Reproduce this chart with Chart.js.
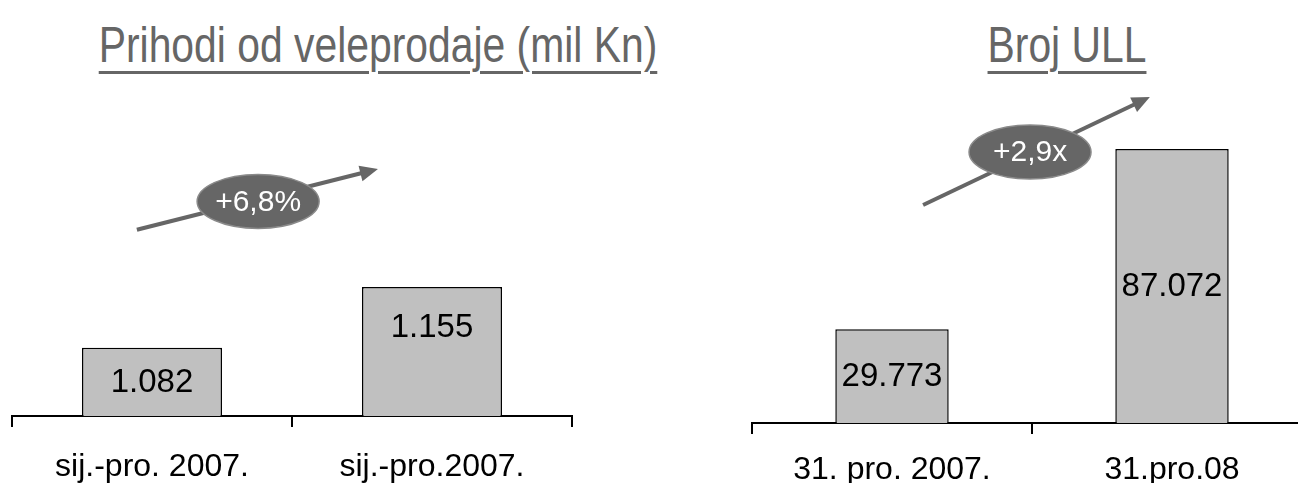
<!DOCTYPE html>
<html>
<head>
<meta charset="utf-8">
<script src="https://cdn.jsdelivr.net/npm/chart.js@4"></script>
<style>
  html, body { margin:0; padding:0; background:#fff; width:1298px; height:483px; overflow:hidden; position:relative; }
  .title { position:absolute; top:20px; font-family:"Liberation Sans",Arial,sans-serif; font-size:50px; color:#666; white-space:nowrap; text-decoration:underline; text-decoration-thickness:3px; text-underline-offset:9px; transform:translateX(-50%) scaleX(0.817); line-height:1; }
  canvas { position:absolute; top:0; }
</style>
</head>
<body>
<div class="title" id="t1" style="left:378px">Prihodi od veleprodaje (mil Kn)</div>
<div class="title" id="t2" style="left:1067px">Broj ULL</div>
<canvas id="c1" style="left:0px"></canvas>
<canvas id="c2" style="left:740px"></canvas>
<script>
// ---- data ----
const revenueCategories = ['sij.-pro. 2007.', 'sij.-pro.2007.'];
const revenueValues = [1082, 1155];
const revenueLabels = ['1.082', '1.155'];
const revenueChange = '+6,8%';

const ullCategories = ['31. pro. 2007.', '31.pro.08'];
const ullValues = [29773, 87072];
const ullLabels = ['29.773', '87.072'];
const ullChange = '+2,9x';

// ---- plugins ----
const valueLabelPlugin = {
  id: 'valueLabels',
  afterDatasetsDraw(chart, args, opts) {
    const ctx = chart.ctx;
    const meta = chart.getDatasetMeta(0);
    const bottom = chart.chartArea.bottom;
    ctx.save();
    ctx.font = '33px "Liberation Sans", Arial, sans-serif';
    ctx.fillStyle = '#000';
    ctx.textAlign = 'center';
    ctx.textBaseline = 'middle';
    meta.data.forEach((bar, i) => {
      const base = Math.min(bar.base, bottom);
      const anchor = opts.anchors[i];
      const y = anchor === 'top' ? bar.y + opts.topOffset : (bar.y + base) / 2;
      ctx.fillText(opts.labels[i], bar.x, y + 1);
    });
    ctx.restore();
  }
};

const trendPlugin = {
  id: 'trend',
  afterDatasetsDraw(chart, args, o) {
    const ctx = chart.ctx;
    const xs = chart.scales.x, ys = chart.scales.y;
    const x1 = xs.getPixelForValue(o.from[0]), y1 = ys.getPixelForValue(o.from[1]);
    const x2 = xs.getPixelForValue(o.to[0]), y2 = ys.getPixelForValue(o.to[1]);
    const cx = xs.getPixelForValue(o.badge[0]), cy = ys.getPixelForValue(o.badge[1]);
    const ang = Math.atan2(y2 - y1, x2 - x1);
    const headLen = 18, headW = 8;
    ctx.save();
    ctx.strokeStyle = '#666';
    ctx.fillStyle = '#666';
    ctx.lineWidth = 4;
    ctx.beginPath();
    ctx.moveTo(x1, y1);
    ctx.lineTo(x2 - Math.cos(ang) * headLen * 0.8, y2 - Math.sin(ang) * headLen * 0.8);
    ctx.stroke();
    ctx.beginPath();
    ctx.moveTo(x2, y2);
    ctx.lineTo(x2 - Math.cos(ang) * headLen + Math.sin(ang) * headW, y2 - Math.sin(ang) * headLen - Math.cos(ang) * headW);
    ctx.lineTo(x2 - Math.cos(ang) * headLen - Math.sin(ang) * headW, y2 - Math.sin(ang) * headLen + Math.cos(ang) * headW);
    ctx.closePath();
    ctx.fill();
    ctx.beginPath();
    ctx.ellipse(cx, cy, 61, 27, 0, 0, Math.PI * 2);
    ctx.fillStyle = '#666';
    ctx.fill();
    ctx.lineWidth = 1.5;
    ctx.strokeStyle = '#8a8a8a';
    ctx.stroke();
    ctx.fillStyle = '#fff';
    ctx.font = '30px "Liberation Sans", Arial, sans-serif';
    ctx.textAlign = 'center';
    ctx.textBaseline = 'middle';
    ctx.fillText(o.text, cx, cy + 1);
    ctx.restore();
  }
};

function makeChart(id, w, h, cats, vals, cfg) {
  const cv = document.getElementById(id);
  cv.width = w; cv.height = h;
  cv.style.width = w + 'px'; cv.style.height = h + 'px';
  return new Chart(cv, {
    type: 'bar',
    data: {
      labels: cats,
      datasets: [{
        data: vals,
        backgroundColor: '#c0c0c0',
        borderColor: '#000',
        borderWidth: 1.5,
        barPercentage: cfg.barPct,
        categoryPercentage: 1
      }]
    },
    options: {
      responsive: false,
      animation: false,
      events: [],
      layout: { padding: cfg.padding },
      plugins: {
        legend: { display: false },
        tooltip: { enabled: false },
        title: { display: false },
        valueLabels: cfg.valueLabels,
        trend: cfg.trend
      },
      scales: {
        x: {
          offset: true,
          border: { display: true, color: '#000', width: 2 },
          grid: { display: true, offset: true, drawOnChartArea: false, drawTicks: true, tickLength: 11, color: '#000', lineWidth: 2 },
          ticks: { color: '#000', font: { family: '"Liberation Sans", Arial, sans-serif', size: 32, lineHeight: 1 }, padding: cfg.tickPad, maxRotation: 0, autoSkip: false }
        },
        y: { display: false, min: cfg.min, max: cfg.max }
      }
    },
    plugins: [valueLabelPlugin, trendPlugin]
  });
}

makeChart('c1', 600, 507, revenueCategories, revenueValues, {
  barPct: 0.5,
  padding: { left: 12, right: 28, top: 80, bottom: 0 },
  tickPad: 24,
  min: 1000, max: 1404,
  valueLabels: { labels: revenueLabels, anchors: ['center', 'top'], topOffset: 40 },
  trend: { from: [-0.054, 1224], to: [0.807, 1297], badge: [0.379, 1258], text: revenueChange }
});

makeChart('c2', 580, 506, ullCategories, ullValues, {
  barPct: 0.405,
  padding: { left: 12, right: 8, top: 80, bottom: 0 },
  tickPad: 20,
  min: 0, max: 109000,
  valueLabels: { labels: ullLabels, anchors: ['center', 'center'], topOffset: 40 },
  trend: { from: [0.111, 69270], to: [0.921, 103590], badge: [0.493, 86110], text: ullChange }
});
</script>
</body>
</html>
